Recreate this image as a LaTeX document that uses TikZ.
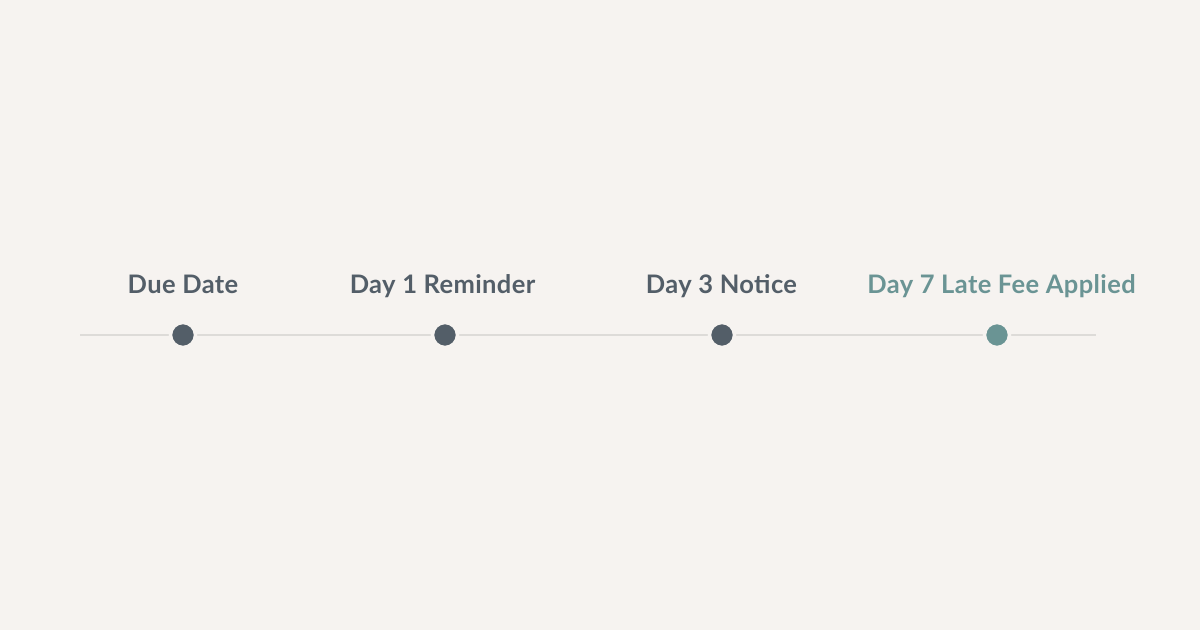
\documentclass[tikz,border=0pt]{standalone}
\usepackage{fontspec}
\setmainfont[LetterSpace=1.5]{Lato}
\definecolor{bg}{HTML}{F6F3F0}
\definecolor{slate}{HTML}{535E68}
\definecolor{tealc}{HTML}{6A9494}
\definecolor{linec}{HTML}{DDDBD8}
\begin{document}
\begin{tikzpicture}[x=1pt,y=-1pt,
  dot/.style={circle,minimum size=25pt,inner sep=0pt,draw=bg,line width=3.5pt},
  lab/.style={font=\fontsize{25.5}{28}\selectfont\bfseries,anchor=base}]
\fill[bg] (0,0) rectangle (1200,630);
\useasboundingbox (0,0) rectangle (1200,630);
\coordinate (L) at (80,335);
\coordinate (R) at (1096,335);
\draw[linec,line width=1.2pt] (L) -- (R);
\node[dot,fill=slate] (d1) at (183,335) {};
\node[dot,fill=slate] (d2) at (445,335) {};
\node[dot,fill=slate] (d3) at (722,335) {};
\node[dot,fill=tealc] (d4) at (997,335) {};
\node[lab,text=slate] (t1) at (183,293) {Due Date};
\node[lab,text=slate] (t2) at (442.5,293) {Day 1 Reminder};
\node[lab,text=slate] (t3) at (721.5,293) {Day 3 Notice};
\node[lab,text=tealc] (t4) at (1001.5,293) {Day 7 Late Fee Applied};
\end{tikzpicture}
\end{document}
